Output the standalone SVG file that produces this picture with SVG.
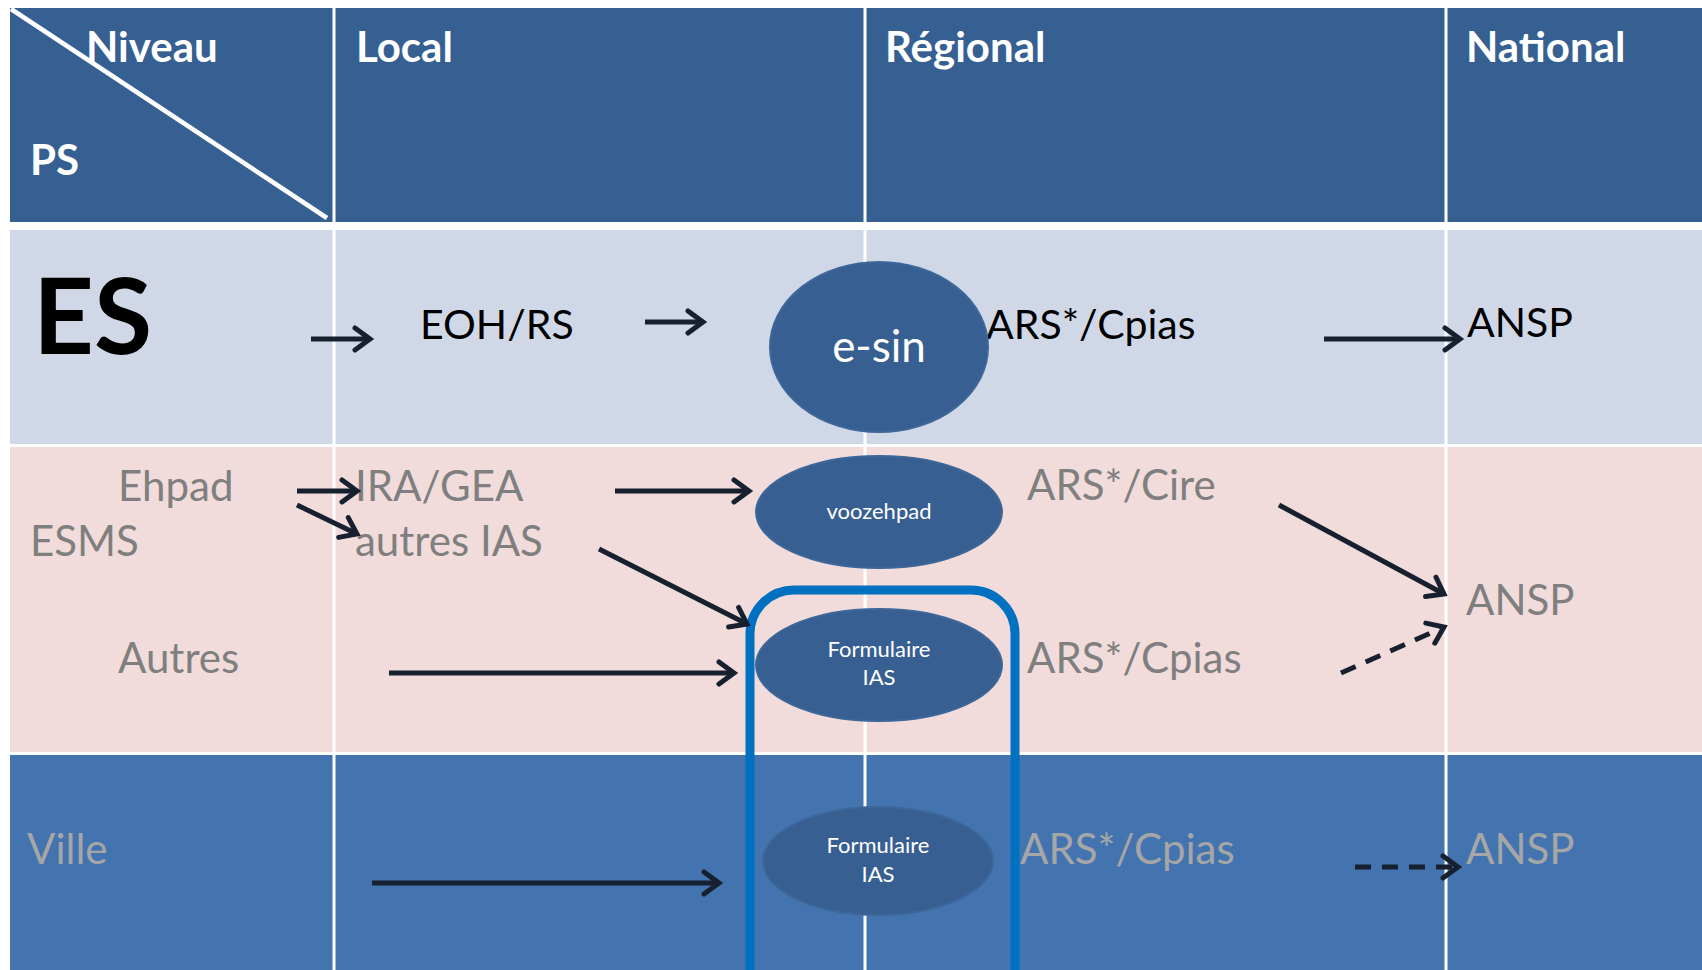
<svg xmlns="http://www.w3.org/2000/svg" width="1702" height="970" viewBox="0 0 1702 970">
<style>
text{font-family:Lato,"Open Sans","Liberation Sans",sans-serif;}
.hd{fill:#ffffff;font-weight:bold;font-size:42px;}
.blk{fill:#000000;font-size:41px;}
.gry{fill:#7F7F7F;font-size:42px;}
.lgr{fill:#A6A6A6;font-size:42px;}
.wsm{fill:#ffffff;font-size:22px;text-anchor:middle;}
.ell{fill:#375F91;stroke:#3E6799;stroke-width:2;}
.con{stroke:#17202E;stroke-width:5;fill:none;marker-end:url(#ah);}
.dash{stroke-dasharray:16 11;}
.div{stroke:#ffffff;stroke-width:3;}
</style>
<defs>
<marker id="ah" markerUnits="userSpaceOnUse" markerWidth="34" markerHeight="34" viewBox="-24 -17 34 34" refX="0" refY="0" orient="auto">
<path d="M-15,-11 L0,0 L-15,11" fill="none" stroke="#17202E" stroke-width="5" stroke-linecap="round"/>
</marker>
</defs>
<rect width="1702" height="970" fill="#ffffff"/>
<g id="table">
<rect x="10" y="8" width="1692" height="214" fill="#366092"/>
<rect x="10" y="230" width="1692" height="214" fill="#D0D8E8"/>
<rect x="10" y="447" width="1692" height="305" fill="#F2DCDB"/>
<rect x="10" y="755" width="1692" height="215" fill="#4374B0"/>
<line class="div" x1="334" y1="8" x2="334" y2="970"/>
<line class="div" x1="865" y1="8" x2="865" y2="970"/>
<line class="div" x1="1446" y1="8" x2="1446" y2="970"/>
<line x1="11" y1="9" x2="327" y2="218" stroke="#ffffff" stroke-width="4.5"/>
</g>
<g id="headers">
<text class="hd" x="86" y="62">Niveau</text>
<text class="hd" x="30" y="175">PS</text>
<text class="hd" x="356" y="62">Local</text>
<text class="hd" x="885" y="62">Régional</text>
<text class="hd" x="1466" y="62">National</text>
</g>
<g id="row-es">
<text x="33" y="354" font-weight="bold" font-size="106" fill="#000000">ES</text>
<text class="blk" x="420" y="339">EOH/RS</text>
<text class="blk" x="986" y="339">ARS*/Cpias</text>
<text class="blk" x="1467" y="337">ANSP</text>
</g>
<g id="node-esin">
<ellipse class="ell" cx="879" cy="347" rx="109" ry="85"/>
<text x="879" y="362" fill="#ffffff" font-size="44" text-anchor="middle">e-sin</text>
</g>
<g id="row-esms">
<text class="gry" x="118" y="501">Ehpad</text>
<text class="gry" x="30" y="556">ESMS</text>
<text class="gry" x="118" y="673">Autres</text>
<text class="gry" x="355" y="501">IRA/GEA</text>
<text class="gry" x="355" y="556">autres IAS</text>
<text class="gry" x="1027" y="500">ARS*/Cire</text>
<text class="gry" x="1027" y="673">ARS*/Cpias</text>
<text class="gry" x="1466" y="615">ANSP</text>
</g>
<g id="node-voozehpad">
<ellipse class="ell" cx="879" cy="512" rx="123" ry="56"/>
<text class="wsm" x="879" y="519">voozehpad</text>
</g>
<g id="node-formulaire1">
<ellipse class="ell" cx="879" cy="665" rx="123" ry="56"/>
<text class="wsm" x="879" y="657">Formulaire</text>
<text class="wsm" x="879" y="685">IAS</text>
</g>
<g id="row-ville">
<text class="lgr" x="27" y="864">Ville</text>
<text class="lgr" x="1020" y="864">ARS*/Cpias</text>
<text class="lgr" x="1466" y="864">ANSP</text>
</g>
<g id="node-formulaire2">
<ellipse class="ell" cx="878" cy="861" rx="115" ry="54"/>
<text class="wsm" x="878" y="853">Formulaire</text>
<text class="wsm" x="878" y="882">IAS</text>
</g>
<g id="ias-frame">
<path d="M750,975 L750,634 A44,44 0 0 1 794,590 L971,590 A44,44 0 0 1 1015,634 L1015,975" fill="none" stroke="#0070C0" stroke-width="9"/>
</g>
<g id="connectors">
<line class="con" x1="311" y1="339" x2="370" y2="339"/>
<line class="con" x1="645" y1="322" x2="703" y2="322"/>
<line class="con" x1="1324" y1="339" x2="1460" y2="339"/>
<line class="con" x1="297" y1="491" x2="357" y2="491"/>
<line class="con" x1="297" y1="505" x2="357" y2="534"/>
<line class="con" x1="615" y1="491" x2="749" y2="491"/>
<line class="con" x1="599" y1="549" x2="747" y2="624"/>
<line class="con" x1="389" y1="673" x2="734" y2="673"/>
<line class="con" x1="1279" y1="505" x2="1444" y2="594"/>
<line class="con dash" x1="1341" y1="673" x2="1444" y2="627"/>
<line class="con" x1="372" y1="883" x2="719" y2="883"/>
<line class="con dash" x1="1355" y1="867" x2="1458" y2="867"/>
</g>
</svg>
